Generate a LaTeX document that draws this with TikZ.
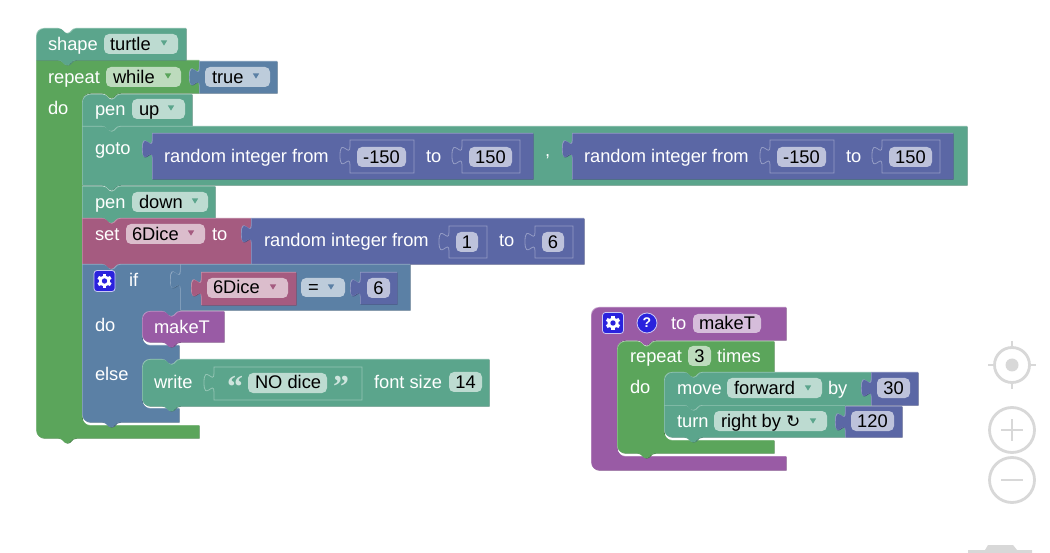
\documentclass[tikz,border=0pt]{standalone}
\usepackage{fontspec}
\setmainfont{Liberation Sans}
\newfontfamily\symfont{DejaVu Sans}
\newfontfamily\quotefont{Liberation Serif}
\definecolor{teal}{HTML}{5BA58C}\colorlet{tealL}{teal!65!white}\colorlet{tealD}{teal!80!black}
\definecolor{grn}{HTML}{5BA55B}\colorlet{grnL}{grn!65!white}\colorlet{grnD}{grn!80!black}
\definecolor{blu}{HTML}{5B80A5}\colorlet{bluL}{blu!65!white}\colorlet{bluD}{blu!80!black}
\definecolor{ind}{HTML}{5B67A5}\colorlet{indL}{ind!65!white}\colorlet{indD}{ind!80!black}
\definecolor{mag}{HTML}{A55B80}\colorlet{magL}{mag!65!white}\colorlet{magD}{mag!80!black}
\definecolor{pur}{HTML}{995BA5}\colorlet{purL}{pur!65!white}\colorlet{purD}{pur!80!black}
\definecolor{gearblue}{HTML}{2A22DD}
\definecolor{ctrl}{HTML}{D8D8D8}
% notch, left to right (top edge) and right to left (bottom edge)
\def\NR#1#2{-- (#1+20,#2) .. controls (#1+25,#2) and (#1+25,#2+5) .. (#1+29,#2+5) .. controls (#1+33,#2+5) and (#1+33,#2) .. (#1+38,#2)}
\def\NL#1#2{-- (#1+38,#2) .. controls (#1+33,#2) and (#1+33,#2+5) .. (#1+29,#2+5) .. controls (#1+25,#2+5) and (#1+25,#2) .. (#1+20,#2)}
% value tab on a left edge, going up
\def\TAB#1#2{-- (#1,#2+25) .. controls (#1,#2+12.5) and (#1-10,#2+35) .. (#1-10,#2+15.6) .. controls (#1-10,#2-3.8) and (#1,#2+18.75) .. (#1,#2+6.25) -- (#1,#2)}
% corners
\def\CTL#1#2{(#1,#2+8) .. controls (#1,#2+3.6) and (#1+3.6,#2) .. (#1+8,#2)}
\def\CBL#1#2{-- (#1+8,#2) .. controls (#1+3.6,#2) and (#1,#2-3.6) .. (#1,#2-8)}
% inner corners
\def\ITL#1#2{-- (#1+8,#2) .. controls (#1+3.6,#2) and (#1,#2+3.6) .. (#1,#2+8)}
\def\IBL#1#2{-- (#1,#2-8) .. controls (#1,#2-3.6) and (#1+3.6,#2) .. (#1+8,#2)}
\newcommand\blk[2]{%
  \fill[#1D,shift={(0.7,0.7)}] #2 -- cycle;
  \begin{scope}
    \clip #2 -- cycle;
    \fill[#1L] #2 -- cycle;
    \fill[#1,shift={(0.7,0.7)}] #2 -- cycle;
  \end{scope}}
\newcommand\stm[5]{\blk{#1}{(#2,#3) \NR{#2}{#3} -- (#4,#3) -- (#4,#5) \NL{#2}{#5} -- (#2,#5)}}
\newcommand\val[5]{\blk{#1}{(#2,#5) \TAB{#2}{#3} -- (#4,#3) -- (#4,#5)}}
\newcommand\ins[5]{\draw[#1L,fill=#1,line width=0.8pt] (#2,#5) \TAB{#2}{#3} -- (#4,#3) -- (#4,#5) -- cycle;}
% chip: name, x1, y1, x2, y2
\newcommand\chip[5]{\fill[white,fill opacity=0.6,rounded corners=5pt] (#2,#3) rectangle (#4,#5);}
\newcommand\arr[3]{\fill[#1] (#2-3.2,#3-2.6) -- (#2+3.2,#3-2.6) -- (#2,#3+2.6) -- cycle;}
\newcommand\lab[4]{\node[lbl] (#1) at (#2,#3) {#4};}
\newcommand\dat[4]{\node[dtx] (#1) at (#2,#3) {#4};}
\newcommand\cdat[4]{\node[ctx] (#1) at (#2,#3) {#4};}
\newcommand\gear[2]{%
  \fill[gearblue,draw=white!75!gearblue,line width=0.8pt,rounded corners=3pt] (#1-10.5,#2-10.5) rectangle (#1+10.5,#2+10.5);
  \foreach \a in {0,60,...,300}{\fill[white,rotate around={\a:(#1,#2)}] (#1-1.7,#2-7.2) rectangle (#1+1.7,#2-4);}
  \fill[white] (#1,#2) circle[radius=5.6pt];
  \fill[gearblue] (#1,#2) circle[radius=2.7pt];}
\tikzset{
  lbl/.style={anchor=base west,inner sep=0pt,outer sep=0pt,yshift=-0.8pt,text=white,font=\fontsize{18.3}{20}\selectfont},
  dtx/.style={anchor=base west,inner sep=0pt,outer sep=0pt,yshift=-0.8pt,text=black,font=\fontsize{18.3}{20}\selectfont},
  ctx/.style={anchor=base,inner sep=0pt,outer sep=0pt,yshift=-0.5pt,text=black,font=\fontsize{18.3}{20}\selectfont},
  qt/.style={anchor=base,inner sep=0pt,outer sep=0pt,font=\quotefont\bfseries\fontsize{32}{32}\selectfont},
  ctrlline/.style={draw=ctrl,line width=2.8pt}
}
\begin{document}
\begin{tikzpicture}[x=1pt,y=-1pt]
\useasboundingbox (0,0) rectangle (1050,553);
\fill[white] (0,0) rectangle (1050,553);

% ---- main stack
\blk{grn}{(36,60) \NR{38}{60} -- (199,60) -- (199,93) \NL{82}{93} \ITL{82}{93} -- (82,417) .. controls (82,421.5) and (85.5,425) .. (90,425) -- (199,425) -- (199,438) \NL{38}{438} -- (44,438) .. controls (39.6,438) and (36,434.4) .. (36,430)}
\blk{teal}{\CTL{36}{28} \NR{38}{28} -- (186,28) -- (186,60) \NL{38}{60} -- (36,60)}
\chip{}{104}{34}{178}{54}
\arr{teal}{164}{43}
\lab{tshape}{48}{50}{shape}
\dat{tturtle}{110}{50}{turtle}
\lab{trepeat}{48}{83}{repeat}
\chip{}{106}{67}{181}{87}
\arr{grn}{168}{76}
\dat{twhile}{113}{83}{while}
\lab{tdo}{48}{114}{do}
\val{blu}{199}{61}{277}{93}
\chip{}{205}{67}{270}{87}
\arr{blu}{256}{76}
\dat{ttrue}{212}{83}{true}

% pen up
\blk{teal}{\CTL{82}{94} \NR{82}{94} -- (192,94) -- (192,126) \NL{82}{126} -- (82,126)}
\lab{tpen}{95}{115}{pen}
\chip{}{132}{99}{185}{119}
\arr{teal}{171}{108}
\dat{tup}{139}{115}{up}

% goto
\stm{teal}{82}{126}{967}{185}
\lab{tgoto}{95}{154}{goto}
\node[lbl] (tcomma) at (545,156) {,};

% random 1
\val{ind}{152}{133}{533}{179}
\lab{trand}{164}{162}{random integer from}
\ins{ind}{350}{140}{414}{173}
\chip{}{357}{147}{406}{167}
\cdat{tn1}{381.5}{163}{-150}
\lab{tto1}{426}{162}{to}
\ins{ind}{462}{140}{520}{173}
\chip{}{469}{147}{512}{167}
\cdat{tn2}{490.5}{163}{150}

% random 2
\val{ind}{572}{133}{953}{179}
\lab{trandb}{584}{162}{random integer from}
\ins{ind}{770}{140}{834}{173}
\chip{}{777}{147}{826}{167}
\cdat{tn3}{801.5}{163}{-150}
\lab{tto2}{846}{162}{to}
\ins{ind}{882}{140}{940}{173}
\chip{}{889}{147}{932}{167}
\cdat{tn4}{910.5}{163}{150}

% pen down
\stm{teal}{82}{186}{215}{218}
\lab{tpenb}{95}{208}{pen}
\chip{}{132}{192}{208}{212}
\arr{teal}{195}{201}
\dat{tdown}{139}{208}{down}

% set
\stm{mag}{82}{218}{251}{264}
\lab{tset}{95}{240}{set}
\chip{}{126}{224}{205}{244}
\arr{mag}{191}{233}
\dat{tdice}{132}{240}{6Dice}
\lab{tto}{212}{240}{to}

% random 3
\val{ind}{251}{218}{584}{264}
\lab{trandc}{264}{246}{random integer from}
\ins{ind}{449}{226}{487}{258}
\chip{}{456}{232}{478}{252}
\cdat{tn5}{467}{248}{1}
\lab{tto3}{499}{246}{to}
\ins{ind}{535}{226}{573}{258}
\chip{}{542}{232}{564}{252}
\cdat{tn6}{553}{248}{6}

% if
\blk{blu}{(82,264) \NR{82}{264} -- (180,264) -- (180,311) \NL{142}{311} \ITL{142}{311} \IBL{142}{345} -- (179,345) -- (179,359) \NL{142}{359} \ITL{142}{359} \IBL{142}{408} -- (179,408) -- (179,422) \NL{82}{422} \CBL{82}{422}}
\val{blu}{180}{264}{410}{310}
\val{mag}{201}{272}{296}{305}
\chip{}{207}{278}{288}{298}
\arr{mag}{273}{287}
\dat{tdiceb}{213}{293}{6Dice}
\chip{}{301}{278}{345}{297}
\arr{blu}{331}{287}
\dat{teq}{308}{293}{=}
\val{ind}{360}{272}{397}{304}
\chip{}{367}{278}{390}{298}
\cdat{tn7}{378.5}{294}{6}
\gear{104.5}{281}
\lab{tif}{129}{286}{if}
\lab{tdob}{95}{331}{do}
\lab{telse}{95}{380}{else}

% makeT call
\blk{pur}{\CTL{142}{311} \NR{142}{311} -- (224,311) -- (224,342) \NL{142}{342} \CBL{142}{342}}
\lab{tmake}{154}{333}{makeT}

% write
\blk{teal}{\CTL{142}{359} \NR{142}{359} -- (489,359) -- (489,406) \NL{142}{406} \CBL{142}{406}}
\lab{twrite}{154}{388}{write}
\ins{teal}{214}{367}{362}{400}
\node[qt,text=white!70!teal] (tq1) at (235,398) {“};
\chip{}{248}{373}{327}{393}
\dat{tnod}{255}{388}{NO dice}
\node[qt,text=white!70!teal] (tq2) at (341,398) {”};
\lab{tfont}{374}{388}{font size}
\chip{}{449}{372}{482}{392}
\cdat{tn8}{465.5}{388}{14}

% ---- procedure
\blk{pur}{\CTL{591}{307} -- (786,307) -- (786,340) \NL{617}{340} \ITL{617}{340} -- (617,448) .. controls (617,452.4) and (620.6,456) .. (625,456) -- (786,456) -- (786,470) \CBL{591}{470}}
\gear{613}{323}
\fill[gearblue,draw=white!75!gearblue,line width=0.8pt] (647,323) circle[radius=10pt];
\node[inner sep=0pt,text=white,font=\bfseries\fontsize{14}{14}\selectfont] (thelp) at (647,323) {?};
\lab{ttoc}{671}{329}{to}
\chip{}{693}{314}{761}{333}
\dat{tmakeb}{699}{329}{makeT}

\blk{grn}{\CTL{617}{341} \NR{617}{341} -- (774,341) -- (774,372) \NL{664}{372} \ITL{664}{372} \IBL{664}{440} -- (774,440) -- (774,453) \NL{617}{453} \CBL{617}{453}}
\lab{trepb}{630}{362}{repeat}
\chip{}{688}{346}{711}{366}
\cdat{tthree}{699.5}{362}{3}
\lab{ttimes}{717}{362}{times}
\lab{tdoc}{630}{393}{do}

\blk{teal}{\CTL{664}{372} \NR{664}{372} -- (871,372) -- (871,405) \NL{664}{405} -- (664,405)}
\lab{tmove}{677}{394}{move}
\chip{}{727}{378}{822}{398}
\arr{teal}{808}{388}
\dat{tforw}{734}{394}{forward}
\lab{tby}{828}{394}{by}
\val{ind}{871}{372}{918}{405}
\chip{}{877}{378}{910}{398}
\cdat{tn9}{893.5}{394}{30}

\blk{teal}{(664,405) \NR{664}{405} -- (845,405) -- (845,437) \NL{664}{437} \CBL{664}{437}}
\lab{tturn}{677}{427}{turn}
\chip{}{714}{411}{827}{431}
\arr{teal}{813}{421}
\dat{tright}{721}{427}{right by {\symfont\fontsize{17}{17}\selectfont ↻}}
\val{ind}{845}{406}{902}{437}
\chip{}{851}{411}{894}{431}
\cdat{tn10}{872.5}{427}{120}

% ---- workspace controls
\draw[ctrlline] (1012,365) circle[radius=17.5pt];
\fill[ctrl] (1012,365) circle[radius=6.5pt];
\draw[ctrlline] (1012,341) -- (1012,347.5) (1012,382.5) -- (1012,389) (988,365) -- (994.5,365) (1029.5,365) -- (1036,365);
\draw[ctrlline] (1012,430) circle[radius=22.5pt];
\draw[ctrlline] (1012,419) -- (1012,441) (1001,430) -- (1023,430);
\draw[ctrlline] (1012,480) circle[radius=22.5pt];
\draw[ctrlline] (1001,480) -- (1023,480);
\fill[ctrl] (968,553) -- (968,550) -- (985,550) -- (988,545) -- (1013,545) -- (1017,550) -- (1032,550) -- (1032,553) -- cycle;
\end{tikzpicture}
\end{document}
